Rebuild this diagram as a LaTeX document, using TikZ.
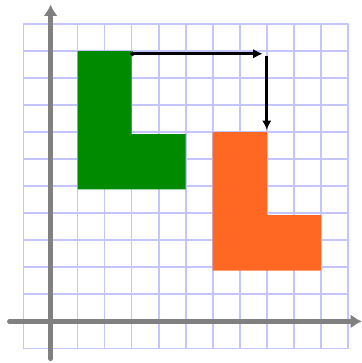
\documentclass[tikz,border=0pt]{standalone}
\usetikzlibrary{arrows.meta}

\definecolor{lgreen}{RGB}{0,138,0}
\definecolor{lorange}{RGB}{255,104,34}
\definecolor{gridblue}{RGB}{196,196,255}

\begin{document}
\begin{tikzpicture}[>={Latex[length=10pt,width=10pt]}, line cap=round]
        % 画布范围
        \useasboundingbox (-1.87,-1.54) rectangle (11.52,11.89);

        % 网格
        \draw[gridblue, line width=1.8pt, step=1] (-1,-1) grid (11,11);

        % 坐标轴
        \draw[gray, line width=5pt, -{Latex[length=12pt,width=15pt]}] (-1.52,0) -- (11.52,0);
        \draw[gray, line width=5pt, -{Latex[length=12pt,width=15pt]}] (0,-1.38) -- (0,11.72);

        % 原来的 L 形 (绿色)
        \fill[lgreen] (1,10) -- (3,10) -- (3,6.93) -- (5,6.93) -- (5,4.88) -- (1,4.88) -- cycle;

        % 平移后的 L 形 (橙色), 向右 5, 向下 3
        \fill[lorange, shift={(5,-3)}] (1,10) -- (3,10) -- (3,6.93) -- (5,6.93) -- (5,4.88) -- (1,4.88) -- cycle;

        % 平移方向
        \coordinate (start) at (2.95,9.9);
        \coordinate (right) at (7.85,9.9);
        \coordinate (top) at (8,9.8);
        \coordinate (down) at (8,7.08);
        \draw[{Circle[length=4.5pt]}->, line width=2.8pt] (start) -- (right);
        \draw[->, line width=2.8pt, line cap=butt] (top) -- (down);

    \end{tikzpicture}
\end{document}
